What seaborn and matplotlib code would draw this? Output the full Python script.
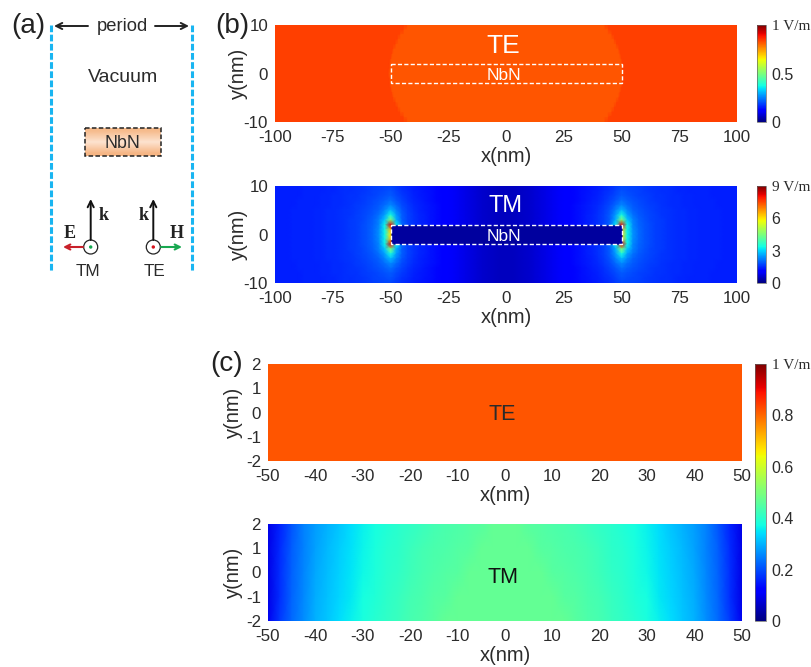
import numpy as np
import matplotlib
matplotlib.use("Agg")
import matplotlib.pyplot as plt
from matplotlib.patches import Rectangle, Circle
from matplotlib.colors import LinearSegmentedColormap
import seaborn as sns

sns.set_theme(style="white")
plt.rcParams['font.family'] = ['Liberation Sans', 'DejaVu Sans']
INK = '#2b2b2b'
W, H = 811, 667

# ---------- data ----------
b_xticks = [-100, -75, -50, -25, 0, 25, 50, 75, 100]
b_yticks = [-10, 0, 10]
c_xticks = [-50, -40, -30, -20, -10, 0, 10, 20, 30, 40, 50]
c_yticks = [-2, -1, 0, 1, 2]
b_te_cbar = [0, 0.5, 1]
b_tm_cbar = [0, 3, 6, 9]
c_cbar = [0, 0.2, 0.4, 0.6, 0.8, 1]

# (b) TE: two contour levels; half width of inner level for y = 0..10 nm
te_b_outer = 0.84
te_b_inner = 0.82
te_b_halfwidth = [50.5, 50.4, 50.2, 49.8, 49.2, 48.5, 47.7, 46.8, 45.7, 44.2, 42.5]

# (b) TM: quadrant x=-100..0 (2.5 nm), rows y=0..10 (1 nm)
tm_b_quadrant = [
 [1.38,1.39,1.40,1.41,1.42,1.43,1.44,1.45,1.46,1.48,1.50,1.53,1.57,1.62,1.68,1.76,1.88,2.05,2.40,3.30,6.00,
  .30,.30,.30,.30,.30,.30,.30,.30,.30,.30,.30,.30,.30,.30,.30,.30,.30,.30,.30,.30],
 [1.38,1.39,1.40,1.41,1.42,1.43,1.44,1.45,1.46,1.48,1.50,1.53,1.57,1.62,1.68,1.76,1.88,2.04,2.38,3.30,6.40,
  .30,.30,.30,.30,.30,.30,.30,.30,.30,.30,.30,.30,.30,.30,.30,.30,.30,.30,.30,.30],
 [1.38,1.39,1.40,1.41,1.42,1.43,1.44,1.45,1.46,1.48,1.50,1.53,1.57,1.62,1.68,1.76,1.87,2.03,2.32,3.30,8.20,
  3.20,2.05,1.70,1.55,1.45,1.38,1.30,1.22,1.14,1.06,.98,.90,.82,.74,.67,.62,.57,.54,.52,.50],
 [1.38,1.39,1.40,1.41,1.42,1.43,1.44,1.45,1.46,1.48,1.50,1.53,1.57,1.62,1.68,1.75,1.85,2.00,2.25,2.90,4.60,
  2.70,1.95,1.70,1.55,1.45,1.38,1.30,1.22,1.14,1.06,.98,.90,.82,.74,.67,.62,.57,.54,.52,.50],
 [1.38,1.39,1.40,1.41,1.42,1.43,1.44,1.45,1.46,1.48,1.50,1.53,1.56,1.61,1.66,1.73,1.81,1.93,2.12,2.55,3.40,
  2.50,1.95,1.70,1.55,1.45,1.38,1.30,1.22,1.14,1.06,.98,.90,.82,.74,.67,.62,.57,.54,.52,.50],
 [1.38,1.39,1.40,1.41,1.42,1.43,1.44,1.45,1.46,1.48,1.50,1.52,1.55,1.59,1.64,1.70,1.77,1.87,2.00,2.30,2.75,
  2.25,1.88,1.67,1.53,1.44,1.37,1.29,1.21,1.14,1.06,.98,.90,.82,.74,.67,.62,.57,.54,.52,.50],
 [1.38,1.38,1.39,1.40,1.41,1.42,1.43,1.44,1.45,1.47,1.49,1.51,1.54,1.58,1.62,1.67,1.73,1.81,1.90,2.10,2.35,
  2.05,1.78,1.62,1.50,1.42,1.35,1.28,1.20,1.14,1.06,.98,.90,.82,.74,.67,.62,.57,.54,.52,.50],
 [1.38,1.38,1.39,1.40,1.41,1.42,1.43,1.44,1.45,1.47,1.48,1.50,1.53,1.56,1.60,1.64,1.69,1.76,1.83,1.95,2.10,
  1.88,1.70,1.56,1.47,1.40,1.33,1.26,1.19,1.14,1.06,.98,.90,.82,.74,.67,.62,.57,.54,.52,.50],
 [1.38,1.38,1.39,1.39,1.40,1.41,1.42,1.43,1.45,1.46,1.48,1.50,1.52,1.55,1.58,1.62,1.67,1.72,1.78,1.85,1.92,
  1.76,1.62,1.52,1.43,1.37,1.31,1.25,1.18,1.13,1.05,.97,.90,.82,.75,.68,.62,.57,.54,.52,.50],
 [1.38,1.38,1.39,1.39,1.40,1.41,1.42,1.43,1.44,1.46,1.47,1.49,1.52,1.54,1.57,1.61,1.65,1.70,1.75,1.79,1.83,
  1.70,1.57,1.48,1.40,1.35,1.29,1.24,1.17,1.11,1.04,.97,.89,.82,.75,.68,.63,.58,.54,.52,.50],
 [1.38,1.38,1.39,1.39,1.40,1.41,1.42,1.43,1.44,1.46,1.47,1.49,1.52,1.54,1.57,1.60,1.64,1.68,1.72,1.74,1.75,
  1.62,1.52,1.45,1.38,1.33,1.28,1.23,1.17,1.10,1.03,.96,.89,.82,.75,.68,.63,.58,.54,.52,.50],
]

# (c) TE: nearly uniform field
te_c_values = [[0.82, 0.82], [0.82, 0.82]]

# (c) TM: half x=-50..0 (2.5 nm), rows y=2,1,0,-1,-2
tm_c_half = [
 [.09,.16,.21,.25,.28,.30,.32,.34,.36,.375,.39,.40,.41,.42,.43,.44,.445,.45,.455,.47,.47],
 [.09,.165,.215,.25,.285,.305,.325,.345,.365,.38,.395,.405,.42,.43,.44,.445,.45,.455,.47,.47,.47],
 [.09,.17,.22,.255,.29,.31,.33,.35,.37,.385,.40,.41,.425,.435,.445,.45,.455,.47,.47,.47,.47],
 [.09,.17,.225,.26,.295,.315,.335,.355,.375,.39,.405,.415,.43,.44,.45,.455,.47,.47,.47,.47,.47],
 [.10,.18,.23,.265,.30,.32,.34,.36,.38,.395,.41,.42,.435,.445,.455,.47,.47,.47,.47,.47,.47],
]

# ---------- build matrices ----------
q = np.array(tm_b_quadrant)
tm_b = np.vstack([q[::-1], q[1:]])
tm_b = np.hstack([tm_b, tm_b[:, -2::-1]])

te_x = np.arange(-100, 100.5, 0.5)
hw = np.array(te_b_halfwidth)
hw = np.concatenate([hw[::-1], hw[1:]])
te_b = np.array([np.where(np.abs(te_x) <= h, te_b_inner, te_b_outer) for h in hw])

tm_c = np.array(tm_c_half)
tm_c = np.hstack([tm_c, tm_c[:, -2::-1]])
te_c = np.array(te_c_values)

# ---------- figure ----------
fig = plt.figure(figsize=(W / 100, H / 100), dpi=100, facecolor='white')


def px_axes(l, t, r, b, **kw):
    return fig.add_axes([l / W, 1 - b / H, (r - l) / W, (b - t) / H], **kw)


def field(box, matrix, xr, yr, xticks, yticks, vmax, cbox=None, cticks=None, top_label=None,
          cfs=11.5, ylabelpad=2):
    ax = px_axes(*box)
    cax = px_axes(*cbox) if cbox else None
    sns.heatmap(matrix, ax=ax, cmap='jet', vmin=0, vmax=vmax, cbar=cax is not None, cbar_ax=cax,
                xticklabels=False, yticklabels=False, shading='gouraud')
    nr, nc = matrix.shape
    fx = lambda v: (np.asarray(v, float) - xr[0]) / (xr[1] - xr[0]) * (nc - 1)
    fy = lambda v: (yr[1] - np.asarray(v, float)) / (yr[1] - yr[0]) * (nr - 1)
    ax.set_xlim(0, nc - 1)
    ax.set_ylim(nr - 1, 0)
    ax.set_xticks(fx(xticks))
    ax.set_xticklabels([str(v) for v in xticks], fontsize=12.2, color=INK)
    ax.set_yticks(fy(yticks))
    ax.set_yticklabels([str(v) for v in yticks], fontsize=12.2, color=INK, rotation=0)
    ax.tick_params(axis='y', length=0, pad=5)
    ax.tick_params(axis='x', length=0, pad=6)
    ax.set_xlabel('x(nm)', fontsize=14.5, color=INK, labelpad=1)
    ax.set_ylabel('y(nm)', fontsize=14.5, color=INK, labelpad=ylabelpad)
    for s in ax.spines.values():
        s.set_visible(False)
    if cax is not None:
        cb = ax.collections[0].colorbar
        cb.set_ticks(cticks)
        labels = [('%g' % v) for v in cticks]
        labels[-1] = top_label
        cb.set_ticklabels(labels)
        cax.tick_params(length=0, pad=4, labelsize=cfs, labelcolor=INK)
        cax.get_yticklabels()[-1].set_fontfamily('Liberation Serif')
        cax.get_yticklabels()[-1].set_fontsize(11)
        cb.outline.set_linewidth(0.5)
        cb.outline.set_edgecolor('#666666')
    return ax, fx, fy


def nbn(ax, fx, fy, fill=None):
    x0, x1 = fx(-50), fx(50)
    y0, y1 = fy(2), fy(-2)
    ax.add_patch(Rectangle((x0, y0), x1 - x0, y1 - y0, facecolor=fill or 'none', edgecolor='white',
                           linewidth=1.0, linestyle=(0, (3, 1.6)), zorder=5))
    ax.text(fx(-1), fy(-0.4), 'NbN', color='white', fontsize=12.5, ha='center', va='center', zorder=6)


bx0, bx1 = 275, 737
ax, fx, fy = field((bx0, 25, bx1, 122), te_b, (-100, 100), (-10, 10), b_xticks, b_yticks, 1,
                   (757, 25, 766, 122), b_te_cbar, '1 V/m', ylabelpad=-3)
nbn(ax, fx, fy)
ax.text(fx(-1), fy(5.6), 'TE', color='white', fontsize=19, ha='center', va='center')

ax, fx, fy = field((bx0, 186, bx1, 283), tm_b, (-100, 100), (-10, 10), b_xticks, b_yticks, 9,
                   (757, 186, 766, 283), b_tm_cbar, '9 V/m', ylabelpad=-3)
nbn(ax, fx, fy, fill='#00009e')
ax.text(fx(0), fy(5.8), 'TM', color='white', fontsize=17, ha='center', va='center')

ax, fx, fy = field((268, 364, 742, 461), te_c, (-50, 50), (-2, 2), c_xticks, c_yticks, 1,
                   (755, 364, 766, 621), c_cbar, '1 V/m')
ax.text(fx(-0.5), fy(-0.1), 'TE', color=INK, fontsize=15.5, ha='center', va='center')

ax, fx, fy = field((268, 524, 742, 621), tm_c, (-50, 50), (-2, 2), c_xticks, c_yticks, 1)
ax.text(fx(-0.5), fy(-0.2), 'TM', color='#111111', fontsize=15.5, ha='center', va='center')

# ---------- schematic overlay in pixels ----------
ov = fig.add_axes([0, 0, 1, 1], facecolor='none')
ov.set_xlim(0, W)
ov.set_ylim(H, 0)
ov.axis('off')

for letter, x, y in [('(a)', 28.5, 26), ('(b)', 232, 26), ('(c)', 227, 364)]:
    ov.text(x, y, letter, fontsize=20, ha='center', va='center', color='#222222')

for x in (50.7, 191.5):
    ov.plot([x, x], [25, 271], color='#19b5f1', linewidth=2.2, linestyle=(0, (2.2, 0.8)))


def arrow(x0, y0, x1, y1, color, lw=1.4, ms=11):
    ov.annotate('', xy=(x1, y1), xytext=(x0, y0),
                arrowprops=dict(arrowstyle='->', color=color, lw=lw, mutation_scale=ms,
                                shrinkA=0, shrinkB=0))


arrow(88, 26, 54, 26, '#222222')
arrow(155, 26, 189, 26, '#222222')
ov.text(122, 26.5, 'period', fontsize=13.2, ha='center', va='center', color=INK)
ov.text(123, 78, 'Vacuum', fontsize=14, ha='center', va='center', color=INK)

peach = LinearSegmentedColormap.from_list('peach', ['#f6bb8c', '#fde3cf', '#f6b685'])
ov.imshow(np.array([[0.0], [0.25], [0.5], [0.75], [1.0]]), cmap=peach, aspect='auto',
          extent=(85, 161, 156, 128), interpolation='bilinear', zorder=1)
ov.set_xlim(0, W)
ov.set_ylim(H, 0)
ov.add_patch(Rectangle((85, 128), 76, 28, facecolor='none', edgecolor='#222222', linewidth=1.1,
                       linestyle=(0, (3, 1.5)), zorder=2))
ov.text(122, 143, 'NbN', fontsize=12.8, ha='center', va='center', color=INK, zorder=3)

serif = dict(family='Liberation Serif', fontweight='bold', fontsize=13, ha='center', va='center', color='#222222')
for cx, dot in [(90.7, '#12a84f'), (153.3, '#d6101a')]:
    arrow(cx, 240, cx, 199, '#111111')
    ov.add_patch(Circle((cx, 247), 7, facecolor='white', edgecolor='#222222', linewidth=0.9))
    ov.add_patch(Circle((cx, 247), 1.7, facecolor=dot, edgecolor='none'))
arrow(83, 247, 63, 247, '#c8202a', lw=1.5, ms=9)
arrow(161, 247, 182, 247, '#18a850', lw=1.5, ms=9)
ov.text(103.5, 216, 'k', **serif)
ov.text(144, 215, 'k', **serif)
ov.text(69.5, 234, 'E', **serif)
ov.text(177, 233, 'H', **serif)
ov.text(88, 271.5, 'TM', fontsize=12.3, ha='center', va='center', color=INK)
ov.text(154, 271.5, 'TE', fontsize=12.3, ha='center', va='center', color=INK)

fig.savefig('out.png', dpi=100)
